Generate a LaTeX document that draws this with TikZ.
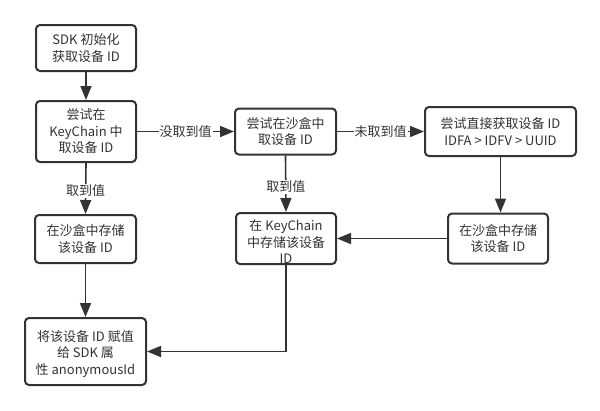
\documentclass[tikz,border=0pt]{standalone}
\usepackage{fontspec}
\setmainfont{Noto Sans CJK SC}
\usetikzlibrary{arrows.meta}
\definecolor{ink}{HTML}{333333}
\begin{document}
\begin{tikzpicture}[x=1pt,y=-1pt,
  box/.style={draw=ink, line width=2pt, rounded corners=4pt, fill=white, inner sep=0pt, align=center, text=ink,
    font=\fontsize{13}{16.5}\selectfont},
  txt/.style={inner sep=0pt, align=center, text=ink, font=\fontsize{13}{16.5}\selectfont},
  conn/.style={draw=ink, line width=1.6pt, -{Triangle[length=14pt,width=11pt]}},
  lab/.style={fill=white, inner sep=1pt, text=ink, font=\fontsize{13}{15}\selectfont}
]
\useasboundingbox (0,0) rectangle (600,410);
\fill[white] (0,0) rectangle (600,410);

\node[box, minimum width=100pt, minimum height=46pt] (b1) at (86,48) {SDK 初始化\\获取设备 ID};
\node[box, minimum width=100pt, minimum height=61pt] (b2) at (86,131.5) {尝试在\\KeyChain 中\\取设备 ID};
\node[box, minimum width=101pt, minimum height=46pt] (b3) at (285.5,131.5) {尝试在沙盒中\\取设备 ID};
\node[box, minimum width=151pt, minimum height=49pt] (b4) at (500.5,131.5) {尝试直接获取设备 ID\\IDFA > IDFV > UUID};
\node[box, minimum width=100pt, minimum height=50pt] (b5) at (498,238.5) {在沙盒中存储\\该设备 ID};
\node[box, minimum width=100pt, minimum height=51pt] (b6) at (286,238.5) {};
\node[txt] (t6) at (286,242) {在 KeyChain\\中存储该设备\\ID};
\node[box, minimum width=101pt, minimum height=48pt] (b7) at (85.5,239) {在沙盒中存储\\该设备 ID};
\node[box, minimum width=121pt, minimum height=67pt] (b8) at (85.5,351.5) {};
\node[txt] (t8) at (85.5,354) {将该设备 ID 赋值\\给 SDK 属\\性 anonymousId};

\draw[conn] (b1.south) -- (b2.north);
\draw[conn] (b2.east) -- node[lab] {没取到值} (b3.west);
\draw[conn] (b3.east) -- node[lab] {未取到值} (b4.west);
\draw[conn] (b2.south) -- node[lab, pos=0.55] {取到值} (b7.north);
\draw[conn] (b3.south) -- node[lab, pos=0.55] {取到值} (b6.north);
\draw[conn] (b4.south) -- (b4.south |- b5.north);
\draw[conn] (b5.west) -- (b6.east);
\draw[conn] (b7.south) -- (b8.north);
\draw[conn] (b6.south) |- (b8.east);
\end{tikzpicture}
\end{document}
